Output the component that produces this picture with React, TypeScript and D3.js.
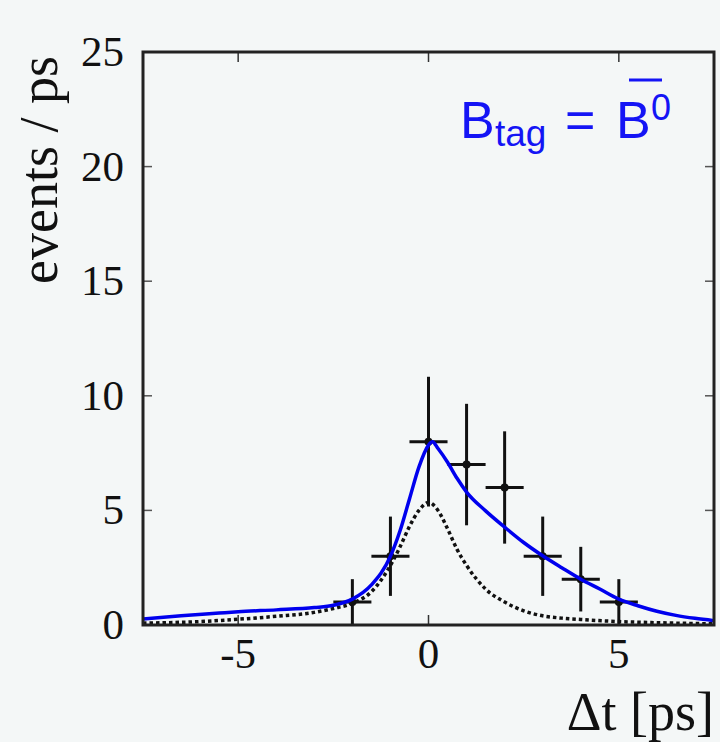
import React from 'react'
import * as d3 from 'd3'

// measured points (Δt bin centre, events, errors)
const binCenters = [-2, -1, 0, 1, 2, 3, 4, 5]
const binCounts = [1, 3, 8, 7, 6, 3, 2, 1]
const binErrors = [1, 1.73, 2.83, 2.65, 2.45, 1.73, 1.41, 1]
const binHalfWidth = 0.5

// fit curve (blue)
const fitX = [-7.5, -6.5, -5.5, -5, -4, -3, -2.5, -2, -1.5, -1, -0.75, -0.5, -0.25, 0, 0.1, 0.25, 0.5, 0.75, 1, 1.5, 2, 2.5, 3, 3.5, 4, 4.5, 5, 5.5, 6, 6.5, 7, 7.5]
const fitY = [0.26, 0.4, 0.52, 0.58, 0.66, 0.76, 0.86, 1.13, 1.75, 3.0, 4.1, 5.5, 6.9, 7.85, 8.0, 7.7, 7.1, 6.4, 5.8, 4.98, 4.27, 3.6, 3.02, 2.5, 2.0, 1.57, 1.13, 0.84, 0.6, 0.42, 0.29, 0.19]

// background component (dotted)
const bkgX = [-7.5, -6, -5, -4, -3, -2.5, -2, -1.5, -1, -0.75, -0.5, -0.25, 0, 0.25, 0.5, 0.75, 1, 1.5, 2, 2.5, 3, 3.5, 4, 5, 6, 7.5]
const bkgY = [0.08, 0.15, 0.25, 0.38, 0.55, 0.72, 0.95, 1.45, 2.6, 3.4, 4.3, 5.0, 5.35, 5.0, 4.2, 3.3, 2.6, 1.57, 1.0, 0.62, 0.4, 0.3, 0.24, 0.15, 0.1, 0.05]

const xTicks = [-5, 0, 5]
const yTicks = [0, 5, 10, 15, 20, 25]

const W = 720
const H = 742
const m = { left: 143, right: 714, top: 52, bottom: 625 }

export default function App() {
  const x = d3.scaleLinear().domain([-7.5, 7.5]).range([m.left, m.right])
  const y = d3.scaleLinear().domain([0, 25]).range([m.bottom, m.top])

  const line = d3.line<[number, number]>()
    .x(d => x(d[0]))
    .y(d => y(d[1]))
    .curve(d3.curveMonotoneX)

  const fitPath = line(fitX.map((v, i) => [v, fitY[i]]))
  const bkgPath = line(bkgX.map((v, i) => [v, bkgY[i]]))

  const serif = '"Liberation Serif", "DejaVu Serif", serif'
  const sans = '"Liberation Sans", Arial, sans-serif'
  const blue = '#1414f5'

  return (
    <svg width={W} height={H} style={{ position: 'absolute', left: 0, top: 0 }}>
      <rect width={W} height={H} fill="#f4f7f7" />
      <defs>
        <clipPath id="plot">
          <rect x={m.left} y={m.top} width={m.right - m.left} height={m.bottom - m.top} />
        </clipPath>
      </defs>

      {/* ticks, inward on all four sides */}
      {yTicks.map(t => (
        <g key={'y' + t}>
          <line x1={m.left} x2={m.left + 9} y1={y(t)} y2={y(t)} stroke="#555" strokeWidth={1.5} />
          <line x1={m.right} x2={m.right - 9} y1={y(t)} y2={y(t)} stroke="#555" strokeWidth={1.5} />
          <text x={124} y={y(t) + 14} textAnchor="end" fontFamily={serif} fontSize={43} fill="#111">{t}</text>
        </g>
      ))}
      {xTicks.map(t => (
        <g key={'x' + t}>
          <line x1={x(t)} x2={x(t)} y1={m.bottom} y2={m.bottom - 10} stroke="#333" strokeWidth={1.5} />
          <line x1={x(t)} x2={x(t)} y1={m.top} y2={m.top + 10} stroke="#333" strokeWidth={1.5} />
          <text x={x(t)} y={668} textAnchor="middle" fontFamily={serif} fontSize={43} fill="#111">{t}</text>
        </g>
      ))}

      <g clipPath="url(#plot)">
        {/* data crosses */}
        {binCenters.map((c, i) => (
          <g key={'d' + i} stroke="#111" strokeWidth={3}>
            <line x1={x(c - binHalfWidth)} x2={x(c + binHalfWidth)} y1={y(binCounts[i])} y2={y(binCounts[i])} />
            <line x1={x(c)} x2={x(c)} y1={y(binCounts[i] - binErrors[i])} y2={y(binCounts[i] + binErrors[i])} />
            <circle cx={x(c)} cy={y(binCounts[i])} r={4} fill="#111" stroke="none" />
          </g>
        ))}
        <path d={bkgPath ?? ''} fill="none" stroke="#111" strokeWidth={3.5} strokeDasharray="3.5,3" />
        <path d={fitPath ?? ''} fill="none" stroke="#0000ee" strokeWidth={3.5} />
      </g>

      <rect x={m.left} y={m.top} width={m.right - m.left} height={m.bottom - m.top}
        fill="none" stroke="#222" strokeWidth={3} />

      {/* axis titles */}
      <text transform="translate(57,170) rotate(-90)" textAnchor="middle" fontFamily={serif} fontSize={54} fill="#111">
        events / ps
      </text>
      <text x={714} y={730} textAnchor="end" fontFamily={serif} fontSize={54} fill="#111">Δt [ps]</text>

      {/* legend label */}
      <g fontFamily={sans} fill={blue}>
        <text x={460} y={138} fontSize={52}>B</text>
        <text x={495} y={146} fontSize={37}>tag</text>
        <text x={565} y={138} fontSize={52}>=</text>
        <text x={616} y={138} fontSize={52}>B</text>
        <text x={651} y={120} fontSize={36}>0</text>
        <line x1={629} x2={662} y1={80} y2={80} stroke={blue} strokeWidth={3} />
      </g>
    </svg>
  )
}
